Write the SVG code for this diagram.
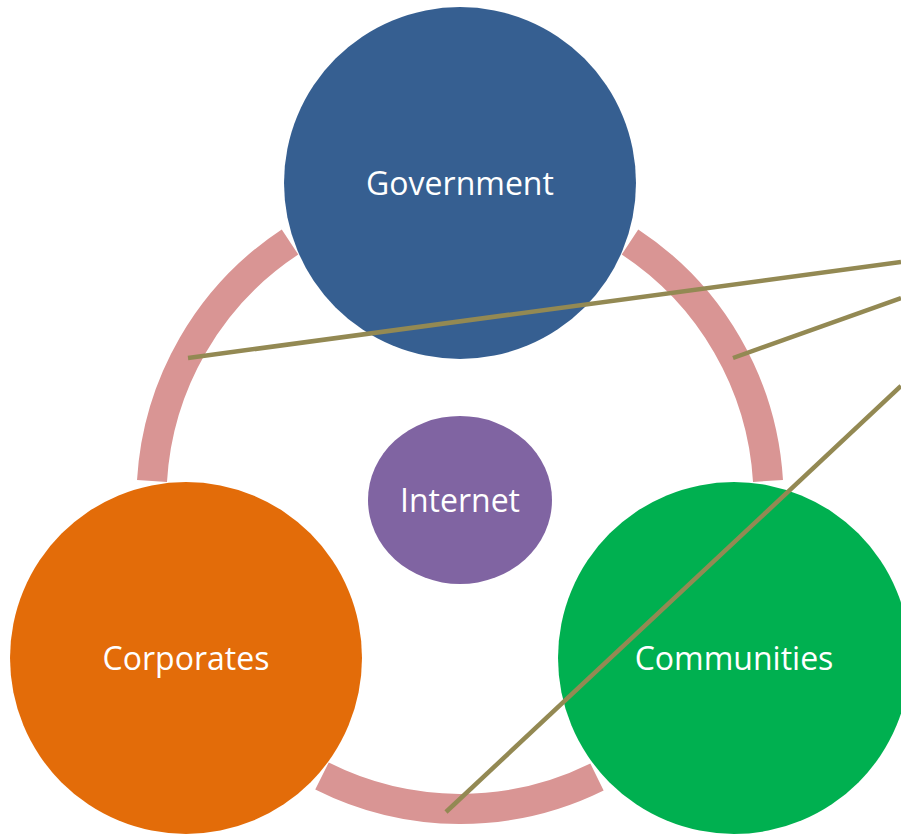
<svg xmlns="http://www.w3.org/2000/svg" width="901" height="835" viewBox="0 0 901 835">
<style>
.ring{fill:none;stroke:#D99594;stroke-width:30;stroke-linecap:butt}
.lbl{font-family:"Open Sans","Liberation Sans",sans-serif;font-size:32px;fill:#FFFFFF;text-anchor:middle;dominant-baseline:central}
.conn{stroke:#938953;stroke-width:4.5;fill:none}
</style>
<rect width="901" height="835" fill="#FFFFFF"/>
<g id="ring">
<path class="ring" d="M 290 242 A 308 308 0 0 0 152 481"/>
<path class="ring" d="M 630 242 A 308 308 0 0 1 768 481"/>
<path class="ring" d="M 597 777 A 308 308 0 0 1 322 776"/>
</g>
<g id="government">
<circle cx="460" cy="183" r="176" fill="#365F91"/>
<text class="lbl" x="460" y="182">Government</text>
</g>
<g id="corporates">
<circle cx="186" cy="658" r="176" fill="#E36C09"/>
<text class="lbl" x="186" y="657">Corporates</text>
</g>
<g id="communities">
<circle cx="734" cy="658" r="176" fill="#00B050"/>
<text class="lbl" x="734" y="657">Communities</text>
</g>
<g id="internet">
<ellipse cx="460" cy="500" rx="92" ry="84" fill="#8064A2"/>
<text class="lbl" x="460" y="499">Internet</text>
</g>
<g id="connectors">
<line class="conn" x1="188" y1="358" x2="901" y2="262"/>
<line class="conn" x1="733" y1="358" x2="901" y2="298"/>
<line class="conn" x1="446" y1="812" x2="901" y2="386"/>
</g>
</svg>
